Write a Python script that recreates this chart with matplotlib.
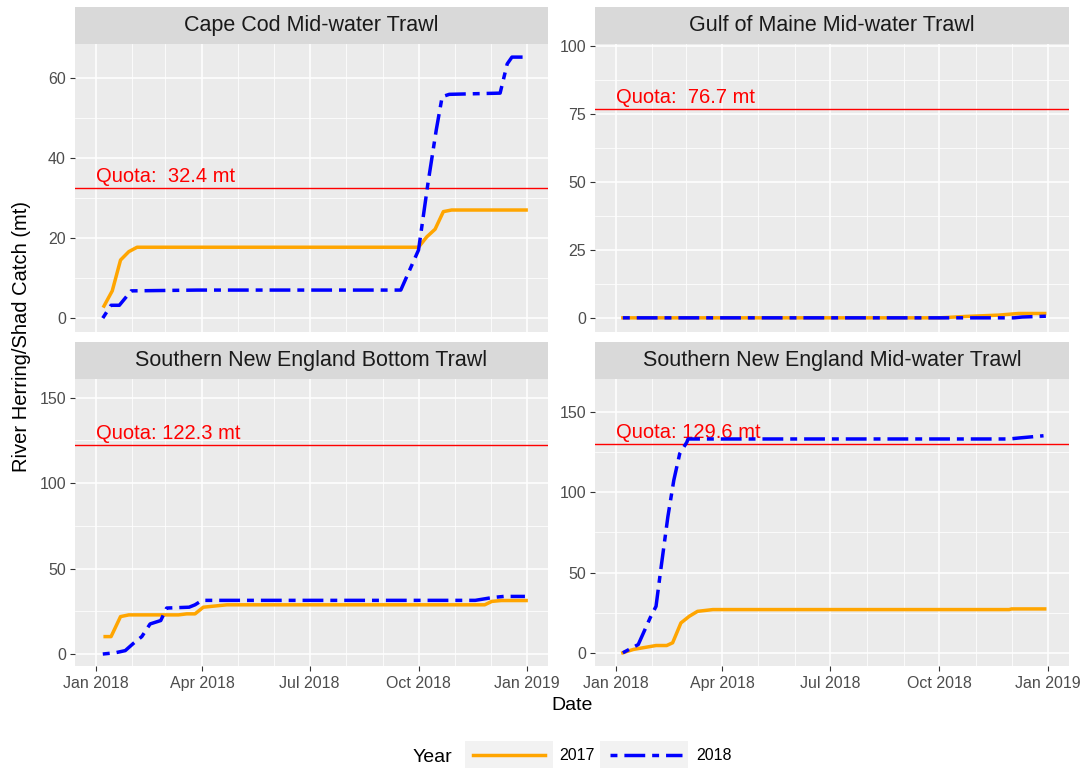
import matplotlib
matplotlib.use('Agg')

import matplotlib.pyplot as plt
import matplotlib.dates as mdates
from matplotlib.lines import Line2D
from matplotlib.patches import Rectangle
from matplotlib.ticker import MultipleLocator
import numpy as np

plt.rcParams['font.family'] = ['Liberation Sans', 'DejaVu Sans']

# ---- data (cumulative catch, mt) ----
panels = ['Cape Cod Mid-water Trawl', 'Gulf of Maine Mid-water Trawl',
          'Southern New England Bottom Trawl', 'Southern New England Mid-water Trawl']
quotas = [32.4, 76.7, 122.3, 129.6]
quota_labels = ['Quota:  32.4 mt', 'Quota:  76.7 mt', 'Quota: 122.3 mt', 'Quota: 129.6 mt']

cc_2017_dates = ['2018-01-08', '2018-01-15', '2018-01-22', '2018-01-29', '2018-02-05', '2018-10-01',
                 '2018-10-08', '2018-10-15', '2018-10-22', '2018-10-29', '2018-12-31']
cc_2017 = [3.0, 6.8, 14.5, 16.6, 17.7, 17.7, 20.3, 22.2, 26.6, 27.0, 27.0]
cc_2018_dates = ['2018-01-07', '2018-01-14', '2018-01-21', '2018-01-31', '2018-03-28', '2018-09-16',
                 '2018-10-01', '2018-10-09', '2018-10-16', '2018-10-21', '2018-10-27', '2018-12-09',
                 '2018-12-15', '2018-12-19', '2018-12-31']
cc_2018 = [0.0, 3.2, 3.2, 6.8, 7.0, 7.0, 17.0, 33.7, 47.0, 55.3, 55.9, 56.2, 63.5, 65.2, 65.2]

gom_2017_dates = ['2018-01-07', '2018-10-01', '2018-10-23', '2018-11-20', '2018-12-07', '2018-12-29']
gom_2017 = [0.0, 0.0, 0.5, 1.0, 1.6, 1.6]
gom_2018_dates = ['2018-01-07', '2018-12-03', '2018-12-10', '2018-12-30']
gom_2018 = [0.0, 0.0, 0.3, 0.6]

sneb_2017_dates = ['2018-01-09', '2018-01-14', '2018-01-22', '2018-01-29', '2018-03-12', '2018-03-19',
                   '2018-03-26', '2018-04-02', '2018-04-22', '2018-11-26', '2018-12-02', '2018-12-10',
                   '2018-12-31']
sneb_2017 = [10.2, 10.2, 21.9, 22.9, 22.9, 23.5, 23.5, 27.4, 28.8, 28.8, 30.8, 31.3, 31.3]
sneb_2018_dates = ['2018-01-07', '2018-01-18', '2018-01-26', '2018-02-02', '2018-02-09', '2018-02-16',
                   '2018-02-25', '2018-03-02', '2018-03-21', '2018-03-26', '2018-04-01', '2018-11-18',
                   '2018-12-03', '2018-12-12', '2018-12-30']
sneb_2018 = [0.0, 0.8, 2.0, 6.3, 10.2, 17.6, 19.6, 26.9, 27.4, 28.8, 31.4, 31.4, 33.1, 33.7, 33.7]

snem_2017_dates = ['2018-01-07', '2018-01-16', '2018-02-04', '2018-02-13', '2018-02-18', '2018-02-25',
                   '2018-03-04', '2018-03-11', '2018-03-24', '2018-11-29', '2018-12-01', '2018-12-29']
snem_2017 = [0.4, 2.5, 4.9, 4.9, 6.6, 18.9, 23.0, 26.1, 27.2, 27.2, 27.6, 27.6]
snem_2018_dates = ['2018-01-07', '2018-01-20', '2018-01-30', '2018-02-04', '2018-02-08', '2018-02-14',
                   '2018-02-19', '2018-02-24', '2018-03-02', '2018-03-03', '2018-11-29', '2018-12-07',
                   '2018-12-28']
snem_2018 = [0.4, 5.5, 22.0, 29.2, 51.9, 84.8, 107.4, 123.9, 131.0, 133.0, 133.0, 133.6, 135.0]

series_2017 = [(cc_2017_dates, cc_2017), (gom_2017_dates, gom_2017),
               (sneb_2017_dates, sneb_2017), (snem_2017_dates, snem_2017)]
series_2018 = [(cc_2018_dates, cc_2018), (gom_2018_dates, gom_2018),
               (sneb_2018_dates, sneb_2018), (snem_2018_dates, snem_2018)]

y_limits = [(-3.4, 68.6), (-5.1, 100.9), (-7.0, 160.9), (-7.8, 170.2)]
y_major = [20, 25, 50, 50]
x_ticks = ['2018-01-01', '2018-04-01', '2018-07-01', '2018-10-01', '2019-01-01']
x_tick_labels = ['Jan 2018', 'Apr 2018', 'Jul 2018', 'Oct 2018', 'Jan 2019']

# ---- layout (pixels) ----
W, H = 1081, 768
fig = plt.figure(figsize=(W / 100, H / 100), dpi=100)


def rect(x0, y0, x1, y1):
    return [x0 / W, 1 - y1 / H, (x1 - x0) / W, (y1 - y0) / H]


panel_px = [(75, 43.5, 548, 331.7), (595, 43.5, 1069, 331.7),
            (75, 379, 548, 666), (595, 379, 1069, 666)]
strip_px = [(75, 7, 548, 43.5), (595, 7, 1069, 43.5),
            (75, 341.7, 548, 379), (595, 341.7, 1069, 379)]

d = lambda s: mdates.datestr2num(s) if isinstance(s, str) else mdates.datestr2num(list(s))
xlim = (d('2018-01-01') - 17.5, d('2019-01-01') + 17.5)
dash = (2, 2, 6, 2)

for i in range(4):
    ax = fig.add_axes(rect(*panel_px[i]))
    ax.set_facecolor('#EBEBEB')
    for s in ax.spines.values():
        s.set_visible(False)
    ax.set_axisbelow(True)

    ax.axhline(quotas[i], color='red', lw=1.0, zorder=2)
    ax.annotate(quota_labels[i], xy=(d('2018-01-01'), quotas[i]), xytext=(0, 4.5),
                textcoords='offset points', ha='left', va='baseline', color='red', fontsize=14.5)

    dx, dy = series_2017[i]
    ax.plot(d(dx), dy, color='orange', lw=2.5, solid_joinstyle='round', zorder=3)
    dx, dy = series_2018[i]
    ax.plot(d(dx), dy, color='blue', lw=2.5, dashes=dash, zorder=4)

    ax.set_xlim(xlim)
    ax.set_ylim(y_limits[i])
    ax.set_xticks(d(x_ticks))
    ax.xaxis.set_minor_locator(mdates.MonthLocator())
    ax.yaxis.set_major_locator(MultipleLocator(y_major[i]))
    ax.yaxis.set_minor_locator(MultipleLocator(y_major[i] / 2))
    ax.grid(which='major', color='white', lw=1.1)
    ax.grid(which='minor', color='white', lw=0.55)
    ax.tick_params(which='major', length=3.5, width=0.8, color='#333333',
                   labelcolor='#4D4D4D', labelsize=11.5)
    ax.tick_params(axis='x', which='major', pad=4)
    ax.tick_params(axis='y', which='major', pad=3)
    ax.tick_params(which='minor', length=0)
    if i < 2:
        ax.tick_params(axis='x', which='major', length=0, labelbottom=False)
    else:
        ax.set_xticklabels(x_tick_labels)

    sax = fig.add_axes(rect(*strip_px[i]))
    sax.set_facecolor('#D9D9D9')
    sax.set_xticks([])
    sax.set_yticks([])
    for s in sax.spines.values():
        s.set_visible(False)
    sax.text(0.5, 0.5, panels[i], ha='center', va='center', fontsize=15.5,
             color='#1A1A1A', transform=sax.transAxes)

fig.text(22 / W, 1 - 336 / H, 'River Herring/Shad Catch (mt)', rotation=90,
         ha='center', va='center', fontsize=14.5)
fig.text(572 / W, 1 - 705 / H, 'Date', ha='center', va='center', fontsize=14)

# legend
fig.text(413 / W, 1 - 757 / H, 'Year', ha='left', va='center', fontsize=14)
for x0 in (465, 600):
    fig.add_artist(Rectangle((x0 / W, 0), 88 / W, 27 / H, transform=fig.transFigure,
                             facecolor='#F2F2F2', edgecolor='none'))
handles = [Line2D([], [], color='orange', lw=2.5),
           Line2D([], [], color='blue', lw=2.5, dashes=dash)]
fig.legend(handles, ['2017', '2018'], ncol=2, loc='center left',
           bbox_to_anchor=(473 / W, 1 - 756 / H), frameon=False, fontsize=11.5,
           handlelength=4.5, handletextpad=0.9, columnspacing=0.95,
           borderpad=0, borderaxespad=0)

plt.savefig('out.png', dpi=100)
